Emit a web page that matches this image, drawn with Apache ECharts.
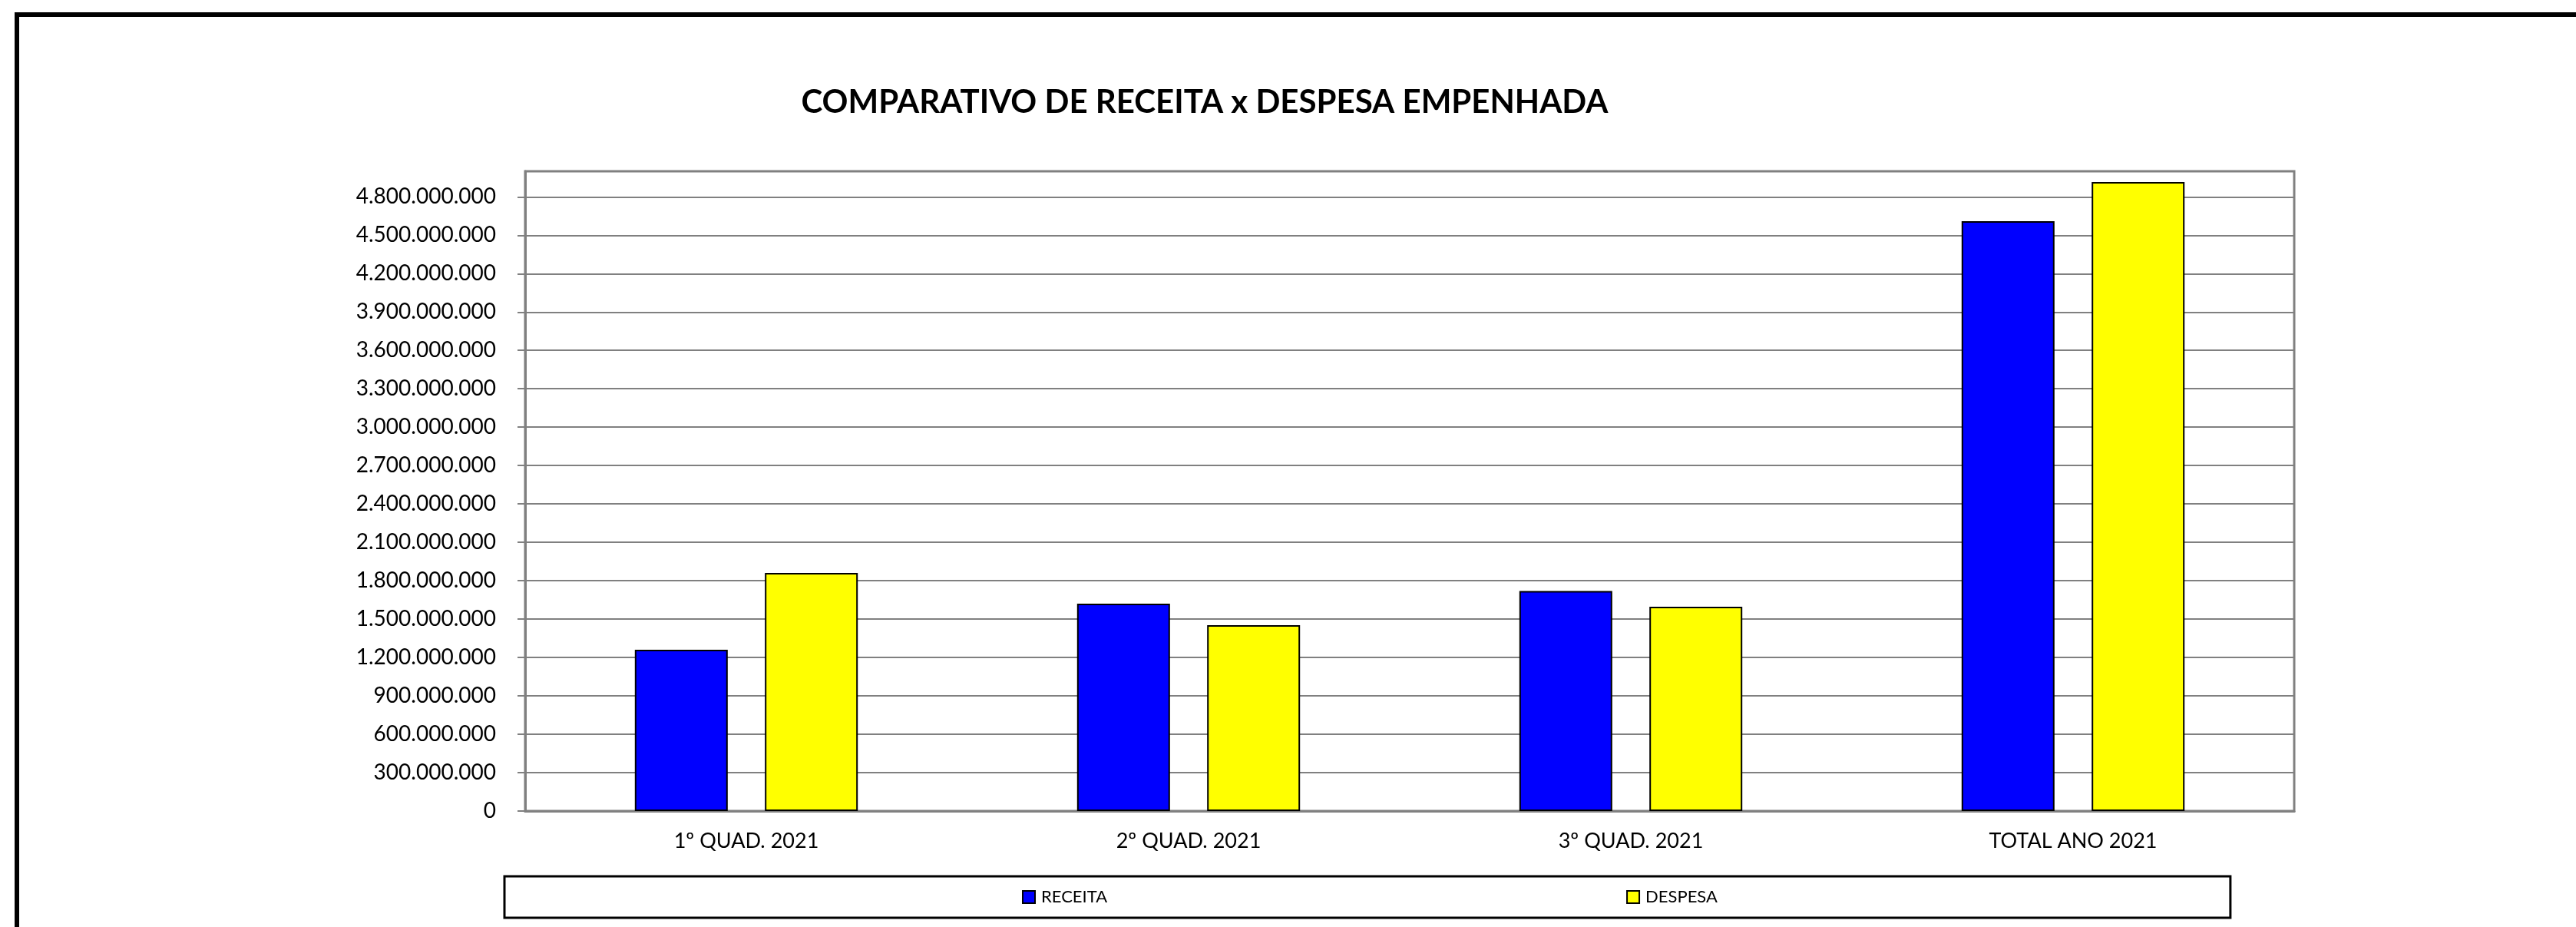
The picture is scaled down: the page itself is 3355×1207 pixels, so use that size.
<!DOCTYPE html>
<html>
<head>
<meta charset="utf-8">
<script src="https://cdn.jsdelivr.net/npm/echarts@6/dist/echarts.min.js"></script>
<style>
  html, body { margin: 0; padding: 0; background: #fff; }
  #chart { width: 3355px; height: 1207px; }
</style>
</head>
<body>
<div id="chart"></div>
<script>
var categories = ["1º QUAD. 2021", "2º QUAD. 2021", "3º QUAD. 2021", "TOTAL ANO 2021"];
var receita = [1260000000, 1620000000, 1720000000, 4610000000];
var despesa = [1860000000, 1452000000, 1596000000, 4916000000];
var yTicks = [0, 300000000, 600000000, 900000000, 1200000000, 1500000000, 1800000000,
  2100000000, 2400000000, 2700000000, 3000000000, 3300000000, 3600000000, 3900000000,
  4200000000, 4500000000, 4800000000];

function fmt(v) {
  return String(Math.round(v)).replace(/\B(?=(\d{3})+(?!\d))/g, ".");
}

var chart = echarts.init(document.getElementById("chart"));
var font = "Lato";

var option = {
  backgroundColor: "#fff",
  animation: false,
  title: {
    text: "COMPARATIVO DE RECEITA x DESPESA EMPENHADA",
    left: 1564,
    top: 107,
    textAlign: "center",
    textStyle: { fontFamily: font, fontWeight: "bold", fontSize: 42, color: "#000" }
  },
  graphic: [
    {
      type: "rect",
      shape: { x: 22, y: 19, width: 3400, height: 1400 },
      style: { fill: "none", stroke: "#000", lineWidth: 6 },
      silent: true
    }
  ],
  legend: {
    data: ["RECEITA", "DESPESA"],
    left: 657,
    top: 1141,
    padding: [16, 668, 16, 674],
    itemWidth: 16,
    itemHeight: 16,
    itemGap: 676,
    borderColor: "#000",
    borderWidth: 3,
    icon: "rect",
    textStyle: { fontFamily: font, fontSize: 22, color: "#000", lineHeight: 22, padding: [0, 0, 0, 3] }
  },
  grid: {
    left: 684,
    right: 367,
    top: 223,
    bottom: 151,
    show: true,
    borderColor: "#808080",
    borderWidth: 3
  },
  xAxis: {
    type: "category",
    data: categories,
    axisLine: { lineStyle: { color: "#808080", width: 3 } },
    axisTick: { length: 10, lineStyle: { color: "#606060", width: 2 } },
    axisLabel: { fontFamily: font, fontSize: 27, color: "#000", margin: 26 }
  },
  yAxis: {
    type: "value",
    min: 0,
    max: 5000000000,
    interval: 300000000,
    axisLine: { show: true, lineStyle: { color: "#808080", width: 3 } },
    axisTick: { show: true, length: 10, customValues: yTicks, lineStyle: { color: "#808080", width: 2 } },
    axisLabel: {
      fontFamily: font, fontSize: 28, color: "#000", margin: 38,
      customValues: yTicks,
      formatter: function (v) { return fmt(v); }
    },
    splitLine: { lineStyle: { color: "#808080", width: 2 } }
  },
  series: [
    {
      name: "RECEITA",
      type: "bar",
      data: receita,
      barWidth: 121,
      barGap: "40%",
      itemStyle: { color: "#0000FF", borderColor: "#000", borderWidth: 2 }
    },
    {
      name: "DESPESA",
      type: "bar",
      data: despesa,
      barWidth: 121,
      barGap: "40%",
      itemStyle: { color: "#FFFF00", borderColor: "#000", borderWidth: 2 }
    }
  ]
};

chart.setOption(option);
</script>
</body>
</html>
